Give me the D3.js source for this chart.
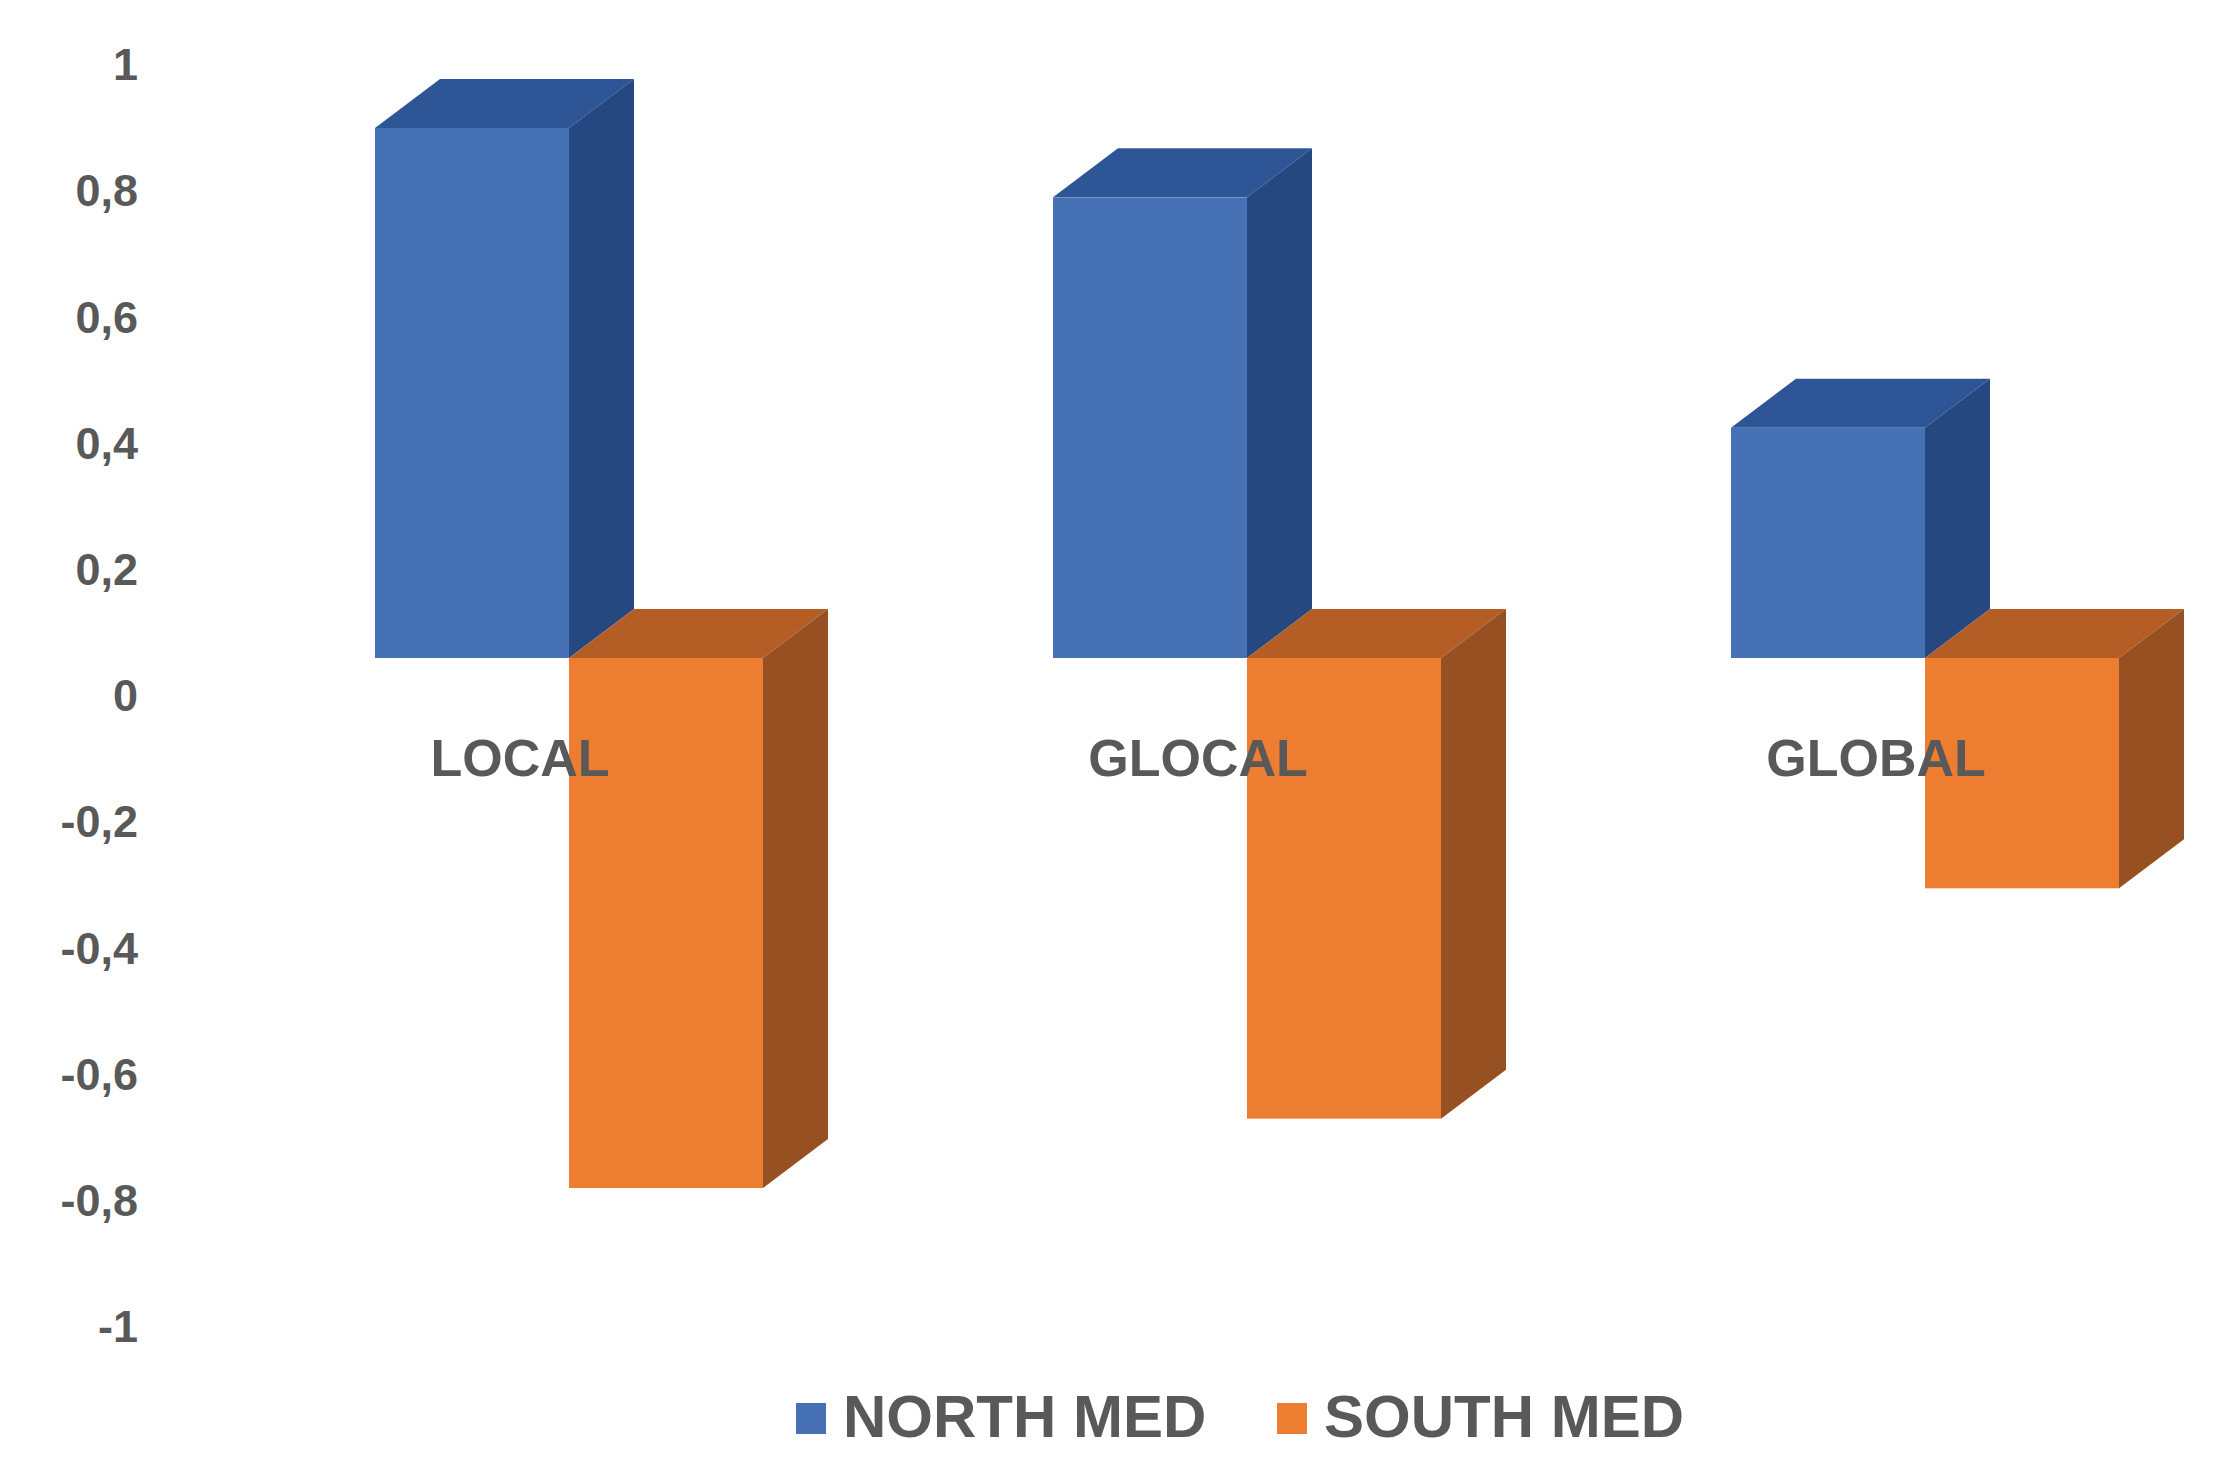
<!DOCTYPE html>
<html>
<head>
    <title>north / south med</title>
    <script src="https://d3js.org/d3.v7.min.js"></script>
    <style>
        body, html {
            margin: 0;
            background: #fff;
            overflow: hidden;
        }
        text {
            font-family: "Liberation Sans", Arial, sans-serif;
            font-weight: bold;
            fill: #595959;
        }
    </style>
</head>
<body>
<div id="chart"></div>
<script>
    // data
    const categories = ["LOCAL", "GLOCAL", "GLOBAL"];
    const seriesNames = ["NORTH MED", "SOUTH MED"];
    const northMed = [0.84, 0.73, 0.365];
    const southMed = [-0.84, -0.73, -0.365];
    const yTicks = [1, 0.8, 0.6, 0.4, 0.2, 0, -0.2, -0.4, -0.6, -0.8, -1];
    const yTickLabels = ["1", "0,8", "0,6", "0,4", "0,2", "0", "-0,2", "-0,4", "-0,6", "-0,8", "-1"];

    const width = 2233, height = 1478;
    const depthX = 65, depthY = -49; // 3d offset of the back face

    const colors = {
        "NORTH MED": { front: "#4672b5", top: "#2e5696", side: "#254880" },
        "SOUTH MED": { front: "#ed7d31", top: "#b45e26", side: "#975022" }
    };

    const svg = d3.select("#chart")
                  .append("svg")
                  .attr("width", width)
                  .attr("height", height);

    // axis labels sit on their own scale, the bar fronts are shifted up from it
    const yLabel = d3.scaleLinear().domain([-1, 1]).range([1326, 64]);
    const yBar = d3.scaleLinear().domain([-1, 1]).range([658 + 631, 658 - 631]);

    const x = d3.scaleBand()
                .domain(categories)
                .range([375, 375 + 3 * 678]);
    const xSeries = d3.scaleBand()
                      .domain(seriesNames)
                      .range([0, 388]);

    // y tick labels
    svg.append("g")
       .selectAll("text")
       .data(yTicks)
       .join("text")
       .attr("x", 138)
       .attr("y", d => yLabel(d))
       .attr("dy", "0.36em")
       .attr("text-anchor", "end")
       .style("font-size", "45px")
       .text((d, i) => yTickLabels[i]);

    const rows = [];
    categories.forEach((c, i) => {
        rows.push({ cat: c, series: "NORTH MED", value: northMed[i] });
        rows.push({ cat: c, series: "SOUTH MED", value: southMed[i] });
    });

    const bars = svg.append("g");
    rows.forEach(r => {
        const x0 = x(r.cat) + xSeries(r.series);
        const w = xSeries.bandwidth();
        const yTop = yBar(Math.max(r.value, 0));
        const yBot = yBar(Math.min(r.value, 0));
        const col = colors[r.series];

        bars.append("polygon")
            .attr("points", [[x0, yTop], [x0 + depthX, yTop + depthY], [x0 + w + depthX, yTop + depthY], [x0 + w, yTop]].join(" "))
            .attr("fill", col.top);
        bars.append("polygon")
            .attr("points", [[x0 + w, yTop], [x0 + w + depthX, yTop + depthY], [x0 + w + depthX, yBot + depthY], [x0 + w, yBot]].join(" "))
            .attr("fill", col.side);
        bars.append("rect")
            .attr("x", x0)
            .attr("y", yTop)
            .attr("width", w)
            .attr("height", yBot - yTop)
            .attr("fill", col.front);
    });

    // category labels, drawn over the bars
    svg.append("g")
       .selectAll("text")
       .data(categories)
       .join("text")
       .attr("x", d => x(d) + 145)
       .attr("y", 776)
       .attr("text-anchor", "middle")
       .style("font-size", "52px")
       .text(d => d);

    // legend
    const legendX = [796, 1277];
    const legend = svg.append("g");
    seriesNames.forEach((s, i) => {
        legend.append("rect")
              .attr("x", legendX[i])
              .attr("y", 1403)
              .attr("width", 30)
              .attr("height", 31)
              .attr("fill", colors[s].front);
        legend.append("text")
              .attr("x", legendX[i] + 47)
              .attr("y", 1437)
              .style("font-size", "60px")
              .text(s);
    });
</script>
</body>
</html>
